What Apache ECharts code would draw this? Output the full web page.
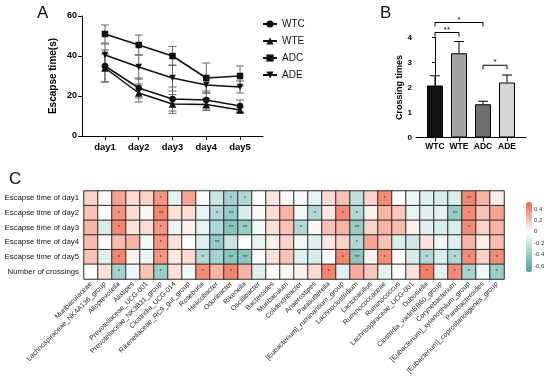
<!DOCTYPE html>
<html><head><meta charset="utf-8">
<script src="https://cdn.jsdelivr.net/npm/echarts@6/dist/echarts.min.js"></script>
<style>html,body{margin:0;padding:0;background:#fff}#c{width:550px;height:388px}</style>
</head><body><div id="c"></div>
<script>
// ---------- Panel A data ----------
const days = ['day1','day2','day3','day4','day5'];
const groups = ['WTC','WTE','ADC','ADE'];
const wtcMean = [35, 24, 18.5, 18, 15];
const wtcSd   = [8, 5, 6, 4.5, 3];
const wteMean = [34, 21.5, 16, 15.8, 13];
const wteSd   = [7, 4.5, 4.7, 3, 1.5];
const adcMean = [51, 45.5, 40, 29, 30];
const adcSd   = [4.5, 5, 4.8, 7.5, 5];
const adeMean = [40.5, 34.5, 29, 25.5, 24.5];
const adeSd   = [5.5, 6, 6.5, 4, 3];
// ---------- Panel B data ----------
const crossMean = [2.08, 3.37, 1.33, 2.2];
const crossErr  = [0.39, 0.47, 0.12, 0.3];
const barColors = ['#111111', '#a3a3a3', '#6e6e6e', '#d4d4d4'];
const brackets  = [[0, 2, 4.6], [0, 1, 4.2], [2, 3, 2.89]];
const bracketMarks = ['*', '**', '*'];
// ---------- Panel C data ----------
const hmRows = ['Escapse time of day1','Escapse time of day2','Escapse time of day3','Escapse time of day4','Escapse time of day5','Number of crossings'];
const genera = ['Muribaculaceae','Lachnospiraceae_NK4A136_group','Alloprevotella','Alistipes','Prevotellaceae_UCG-001','Prevotellaceae_NK3B31_group','Clostridia_UCG-014','Rikenellaceae_RC9_gut_group','Roseburia','Helicobacter','Odoribacter','Rikenella','Oscillibacter','Bacteroides','Muribaculum','Colidextribacter','Anaerostipes','Parasutterella','[Eubacterium]_ruminantium_group','Lachnoclostridium','Lactobacillus','Ruminococcaceae','Ruminococcus','Lachnospiraceae_UCG-001','Dubosiella','Clostridia_vadinBB60_group','Corynebacterium','[Eubacterium]_xylanophilum_group','Parabacteroides','[Eubacterium]_coprostanoligenes_group'];
const rDay1  = [0.15,0.02,0.3,0.12,0.15,0.35,-0.1,0.3,0.0,-0.2,-0.35,-0.3,0.0,0.08,0.02,-0.03,-0.1,0.12,0.2,-0.25,0.15,0.38,0.0,-0.06,-0.12,-0.15,-0.15,0.4,0.25,0.06];
const rDay2  = [0.2,0.0,0.35,0.12,0.03,0.4,0.1,0.12,-0.1,-0.3,-0.4,-0.15,0.02,0.12,0.25,-0.05,-0.3,0.08,0.38,-0.3,0.05,0.25,0.18,-0.1,-0.12,-0.1,-0.4,0.38,0.2,0.3];
const rDay3  = [0.25,-0.15,0.4,0.1,0.12,0.35,-0.08,0.05,-0.1,-0.3,-0.45,-0.4,-0.05,0.1,0.2,-0.3,0.02,0.2,0.25,-0.4,0.15,0.25,0.22,0.05,-0.12,-0.15,-0.15,0.38,0.15,0.25];
const rDay4  = [0.22,0.0,0.22,0.25,-0.05,0.35,0.1,0.0,-0.12,-0.4,-0.2,0.0,-0.1,0.05,0.15,-0.05,-0.12,0.08,0.15,-0.3,0.3,0.2,-0.15,-0.18,0.1,-0.05,-0.12,0.25,0.06,0.22];
const rDay5  = [0.2,-0.12,0.4,0.05,-0.08,0.35,0.08,0.12,-0.3,-0.35,-0.45,-0.45,0.0,0.1,0.2,-0.12,-0.15,0.0,0.4,-0.45,0.05,0.38,0.0,-0.15,-0.3,-0.15,-0.3,0.38,0.15,0.38];
const rCross = [0.0,0.1,-0.35,-0.05,0.2,-0.38,0.1,-0.05,0.38,0.25,0.4,0.25,-0.12,0.0,0.03,0.05,0.12,0.4,-0.12,0.28,0.18,-0.1,0.0,0.1,0.42,-0.1,0.38,-0.35,-0.05,-0.38];
const sDay1  = [0,0,0,0,0,1,0,0,0,0,1,1,0,0,0,0,0,0,0,0,0,1,0,0,0,0,0,2,0,0];
const sDay2  = [0,0,1,0,0,2,0,0,0,1,2,0,0,0,0,0,1,0,1,1,0,0,0,0,0,0,2,1,0,0];
const sDay3  = [0,0,1,0,0,1,0,0,0,0,2,2,0,0,0,1,0,0,0,2,0,0,0,0,0,0,0,1,0,0];
const sDay4  = [0,0,0,0,0,1,0,0,0,2,0,0,0,0,0,0,0,0,0,1,0,0,0,0,0,0,0,0,0,0];
const sDay5  = [0,0,1,0,0,1,0,0,1,0,2,2,0,0,0,0,0,0,1,2,0,1,0,0,1,0,1,1,0,1];
const sCross = [0,0,1,0,0,1,0,0,1,0,1,0,0,0,0,0,0,1,0,0,0,0,0,0,1,0,1,1,0,1];
const cbTicks = [-0.6,-0.4,-0.2,0,0.2,0.4];

const rVals = [rDay1,rDay2,rDay3,rDay4,rDay5,rCross];
const sVals = [sDay1,sDay2,sDay3,sDay4,sDay5,sCross];
const heatData = [];
rVals.forEach((row, r) => row.forEach((v, c) => heatData.push([c, r, v])));
const starOf = (c, r) => ['', '*', '**'][sVals[r][c]];

// colour scale (white at 0)
const VMIN = -0.7, VMAX = 0.52;
const TEAL = [72,165,154], RED = [238,98,70];
const scaleColors = [];
for (let i = 0; i <= 40; i++) {
  const v = VMIN + (VMAX - VMIN) * i / 40;
  let t, c;
  if (v < 0) { t = v / VMIN; c = TEAL; } else { t = v / VMAX; c = RED; }
  const m = k => Math.round(255 + (c[k] - 255) * t);
  scaleColors.push('rgb(' + m(0) + ',' + m(1) + ',' + m(2) + ')');
}

const FONT = 'Liberation Sans';
const axisBlack = { lineStyle: { color: '#000', width: 1 } };

const lineMeans = [wtcMean, wteMean, adcMean, adeMean];
const lineSds = [wtcSd, wteSd, adcSd, adeSd];
const symbols = ['circle', 'triangle', 'rect', 'path://M0,0L10,0L5,9Z'];

const series = [];
// error bars A
lineMeans.forEach((mean, g) => {
  series.push({
    type: 'custom', xAxisIndex: 0, yAxisIndex: 0, z: 1, silent: true,
    data: mean.map((m, i) => [i + 1, m, lineSds[g][i]]),
    encode: { x: 0, y: 1 },
    renderItem: (params, api) => {
      const x = api.value(0), m = api.value(1), s = api.value(2);
      const t = api.coord([x, m + s]), b = api.coord([x, m - s]);
      const w = 4, st = { stroke: '#666', lineWidth: 1 };
      return { type: 'group', children: [
        { type: 'line', shape: { x1: t[0], y1: t[1], x2: b[0], y2: b[1] }, style: st },
        { type: 'line', shape: { x1: t[0] - w, y1: t[1], x2: t[0] + w, y2: t[1] }, style: st },
        { type: 'line', shape: { x1: b[0] - w, y1: b[1], x2: b[0] + w, y2: b[1] }, style: st }
      ]};
    }
  });
});
// lines A
lineMeans.forEach((mean, g) => {
  series.push({
    type: 'line', name: groups[g], xAxisIndex: 0, yAxisIndex: 0, z: 3,
    data: mean.map((m, i) => [i + 1, m]),
    symbol: symbols[g], symbolSize: g === 1 ? 7.5 : 6.5,
    lineStyle: { color: '#111', width: 1.5 },
    itemStyle: { color: '#111' }
  });
});
// bars B
series.push({
  type: 'bar', xAxisIndex: 1, yAxisIndex: 1, barWidth: 16, z: 2,
  data: crossMean.map((m, i) => ({ value: [i, m], itemStyle: { color: barColors[i], borderColor: '#000', borderWidth: 1 } }))
});
series.push({
  type: 'custom', xAxisIndex: 1, yAxisIndex: 1, z: 1, silent: true,
  data: crossMean.map((m, i) => [i, m, crossErr[i]]),
  encode: { x: 0, y: 1 },
  renderItem: (params, api) => {
    const x = api.value(0), m = api.value(1), s = api.value(2);
    const t = api.coord([x, m + s]), b = api.coord([x, m]);
    const st = { stroke: '#000', lineWidth: 1 };
    return { type: 'group', children: [
      { type: 'line', shape: { x1: t[0], y1: t[1], x2: b[0], y2: b[1] }, style: st },
      { type: 'line', shape: { x1: t[0] - 5, y1: t[1], x2: t[0] + 5, y2: t[1] }, style: st }
    ]};
  }
});
series.push({
  type: 'custom', xAxisIndex: 1, yAxisIndex: 1, z: 4, silent: true,
  data: brackets,
  encode: { x: 0, y: 2 },
  renderItem: (params, api) => {
    const p1 = api.coord([api.value(0), api.value(2)]), p2 = api.coord([api.value(1), api.value(2)]);
    return { type: 'group', children: [
      { type: 'polyline', shape: { points: [[p1[0], p1[1] + 4], p1, p2, [p2[0], p2[1] + 4]] }, style: { stroke: '#000', lineWidth: 1, fill: null } },
      { type: 'text', style: { text: bracketMarks[params.dataIndex], x: (p1[0] + p2[0]) / 2, y: p1[1] + 1, align: 'center', verticalAlign: 'bottom', fontSize: 8, fontFamily: FONT, fill: '#000' } }
    ]};
  }
});
// heatmap C
series.push({
  type: 'heatmap', xAxisIndex: 2, yAxisIndex: 2, data: heatData,
  itemStyle: { borderColor: '#2a2a2a', borderWidth: 1 },
  label: { show: true, fontSize: 6, color: '#333', fontFamily: FONT,
    formatter: p => starOf(p.value[0], p.value[1]) }
});

const titleStyle = { fontSize: 17, fontWeight: 'normal', color: '#111', fontFamily: FONT };
const option = {
  animation: false,
  backgroundColor: '#fff',
  textStyle: { fontFamily: FONT },
  title: [
    { text: 'A', left: 37, top: 5, padding: 0, textStyle: titleStyle },
    { text: 'B', left: 380, top: 5, padding: 0, textStyle: titleStyle },
    { text: 'C', left: 9, top: 171, padding: 0, textStyle: titleStyle }
  ],
  legend: {
    data: groups, orient: 'vertical', left: 262, top: 19, itemWidth: 14, itemHeight: 9, itemGap: 7,
    textStyle: { fontSize: 10, color: '#111', fontFamily: FONT }, padding: 0
  },
  grid: [
    { left: 82, top: 16, width: 181, height: 120 },
    { left: 416, top: 37.5, width: 110, height: 100 },
    { left: 84, top: 191, width: 420, height: 88 },
    { left: 526, top: 202, width: 6, height: 70 }
  ],
  xAxis: [
    { gridIndex: 0, type: 'value', min: 0.32, max: 5.68, splitLine: { show: false },
      axisLine: axisBlack, axisTick: { customValues: [1,2,3,4,5], length: 4, lineStyle: { color: '#000' } },
      axisLabel: { customValues: [1,2,3,4,5], formatter: v => days[Math.round(v) - 1], fontSize: 9.5, fontWeight: 'bold', color: '#000', margin: 6 } },
    { gridIndex: 1, type: 'value', min: -0.79, max: 3.79, splitLine: { show: false },
      axisLine: axisBlack, axisTick: { customValues: [0,1,2,3], length: 4, lineStyle: { color: '#000' } },
      axisLabel: { customValues: [0,1,2,3], formatter: v => groups[Math.round(v)], fontSize: 8.5, fontWeight: 'bold', color: '#000', margin: 5 } },
    { gridIndex: 2, type: 'category', data: genera, axisLine: { show: false },
      axisTick: { alignWithLabel: true, length: 2, lineStyle: { color: '#444' } },
      axisLabel: { rotate: 45, interval: 0, fontSize: 7, color: '#222', margin: 4 } },
    { gridIndex: 3, type: 'value', show: false }
  ],
  yAxis: [
    { gridIndex: 0, type: 'value', min: 0, max: 60, interval: 20, splitLine: { show: false },
      axisLine: { show: true, lineStyle: { color: '#000' } }, axisTick: { show: true, length: 4, lineStyle: { color: '#000' } },
      axisLabel: { fontSize: 9, fontWeight: 'bold', color: '#000', margin: 5 },
      name: 'Escapse time(s)', nameLocation: 'middle', nameGap: 24,
      nameTextStyle: { fontSize: 10, fontWeight: 'bold', color: '#000' } },
    { gridIndex: 1, type: 'value', min: 0, max: 4, interval: 1, splitLine: { show: false },
      axisLine: { show: true, lineStyle: { color: '#000' } }, axisTick: { show: true, length: 3, lineStyle: { color: '#000' } },
      axisLabel: { fontSize: 8, fontWeight: 'bold', color: '#000', margin: 4 },
      name: 'Crossing times', nameLocation: 'middle', nameGap: 12,
      nameTextStyle: { fontSize: 9, fontWeight: 'bold', color: '#000' } },
    { gridIndex: 2, type: 'category', data: hmRows, inverse: true, axisLine: { show: false },
      axisTick: { alignWithLabel: true, length: 3, lineStyle: { color: '#333' } },
      axisLabel: { fontSize: 7.8, color: '#111', margin: 5 } },
    { gridIndex: 3, type: 'value', position: 'right', min: VMIN, max: VMAX, splitLine: { show: false },
      axisLine: { show: false },
      axisTick: { show: true, customValues: cbTicks, length: 2, lineStyle: { color: '#555' } },
      axisLabel: { customValues: cbTicks, fontSize: 6, color: '#333', margin: 2,
        formatter: v => Math.abs(v) < 1e-9 ? '0' : v.toFixed(1) } }
  ],
  visualMap: {
    type: 'continuous', seriesIndex: series.length - 1, min: VMIN, max: VMAX,
    orient: 'vertical', left: 526, top: 202, itemWidth: 6, itemHeight: 70,
    padding: 0, calculable: false, text: null, showLabel: false,
    inRange: { color: scaleColors }
  },
  series: series
};
const chart = echarts.init(document.getElementById('c'), null, { renderer: 'canvas' });
chart.setOption(option);
</script>
</body></html>
